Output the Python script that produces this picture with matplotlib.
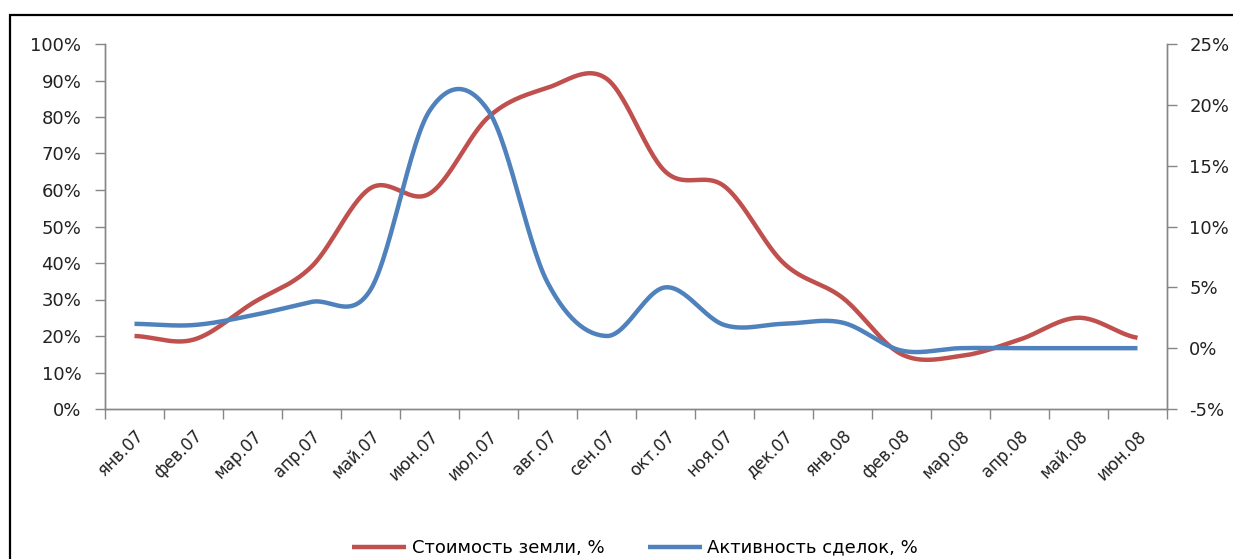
import numpy as np
import matplotlib
matplotlib.use("Agg")
import matplotlib.pyplot as plt
from matplotlib.ticker import PercentFormatter, FixedLocator
from matplotlib.patches import Rectangle

months = ["янв.07", "фев.07", "мар.07", "апр.07", "май.07", "июн.07", "июл.07",
          "авг.07", "сен.07", "окт.07", "ноя.07", "дек.07", "янв.08", "фев.08",
          "мар.08", "апр.08", "май.08", "июн.08"]
# стоимость земли, % (левая ось)
land_cost = [20, 19, 29, 39, 60.5, 59, 80, 88, 90.5, 65, 61, 40, 30.5, 15, 14.5, 19, 25, 19.5]
# активность сделок, % (правая ось)
deals = [2.0, 1.9, 2.7, 3.8, 4.8, 19.5, 19.5, 5.4, 1.0, 5.0, 1.9, 2.0, 2.1, -0.2, 0, 0, 0, 0]

red = "#C0504D"
blue = "#4F81BD"
axis_gray = "#868686"

plt.rcParams["font.family"] = ["DejaVu Sans"]
plt.rcParams["axes.unicode_minus"] = False


def smooth(y, n=30):
    # сглаживание как в Excel (Catmull-Rom / Безье)
    y = np.asarray(y, dtype=float)
    x = np.arange(len(y), dtype=float)
    xs, ys = [], []
    for i in range(len(y) - 1):
        p0 = y[i - 1] if i > 0 else y[i]
        p3 = y[i + 2] if i + 2 < len(y) else y[i + 1]
        p1, p2 = y[i], y[i + 1]
        c1 = p1 + (p2 - p0) / 6
        c2 = p2 - (p3 - p1) / 6
        t = np.linspace(0, 1, n)
        b = ((1 - t) ** 3 * p1 + 3 * (1 - t) ** 2 * t * c1
             + 3 * (1 - t) * t ** 2 * c2 + t ** 3 * p2)
        xs.append(x[i] + t)
        ys.append(b)
    return np.concatenate(xs), np.concatenate(ys)


fig = plt.figure(figsize=(12.33, 5.59), dpi=100)
ax = fig.add_axes([105 / 1233, 1 - 409 / 559, (1167 - 105) / 1233, (409 - 44) / 559])
ax2 = ax.twinx()

xs, ys = smooth(np.array(land_cost) / 100)
l1, = ax.plot(xs, ys, color=red, lw=3.2, solid_capstyle="butt", label="Стоимость земли, %")
xs, ys = smooth(np.array(deals) / 100)
l2, = ax2.plot(xs, ys, color=blue, lw=3.2, solid_capstyle="butt", label="Активность сделок, %")

ax.set_xlim(-0.5, len(months) - 0.5)
ax.set_ylim(0, 1)
ax2.set_ylim(-0.05, 0.25)
ax.set_yticks(np.arange(0, 1.01, 0.1))
ax2.set_yticks(np.arange(-0.05, 0.251, 0.05))
ax.yaxis.set_major_formatter(PercentFormatter(1, decimals=0))
ax2.yaxis.set_major_formatter(PercentFormatter(1, decimals=0))

ax.set_xticks(range(len(months)))
ax.set_xticklabels(months, rotation=45, ha="right", va="top", rotation_mode="anchor", fontsize=12)
ax.xaxis.set_minor_locator(FixedLocator(np.arange(-0.5, len(months), 1)))
ax.tick_params(axis="x", which="major", length=0, pad=13)
ax.tick_params(axis="x", which="minor", length=7, color=axis_gray, width=1)
ax.tick_params(axis="y", length=7, color=axis_gray, width=1, pad=10, labelsize=13, labelcolor="#222")
ax2.tick_params(axis="y", length=7, color=axis_gray, width=1, pad=9, labelsize=13, labelcolor="#222")
ax.tick_params(axis="x", labelcolor="#222")

for a in (ax, ax2):
    a.spines["top"].set_visible(False)
    for s in ("left", "right", "bottom"):
        a.spines[s].set_color(axis_gray)
        a.spines[s].set_linewidth(1)

fig.legend(handles=[l1, l2], loc="center", bbox_to_anchor=(0.515, 0.02), ncol=2,
           frameon=False, fontsize=13, handlelength=3.0, handletextpad=0.3,
           columnspacing=2.4)

fig.patches.append(Rectangle((10 / 1233, -0.2), 1.2, 1.2 - 15 / 559, transform=fig.transFigure,
                             fill=False, edgecolor="black", linewidth=1.6))

fig.savefig("out.png", dpi=100)
